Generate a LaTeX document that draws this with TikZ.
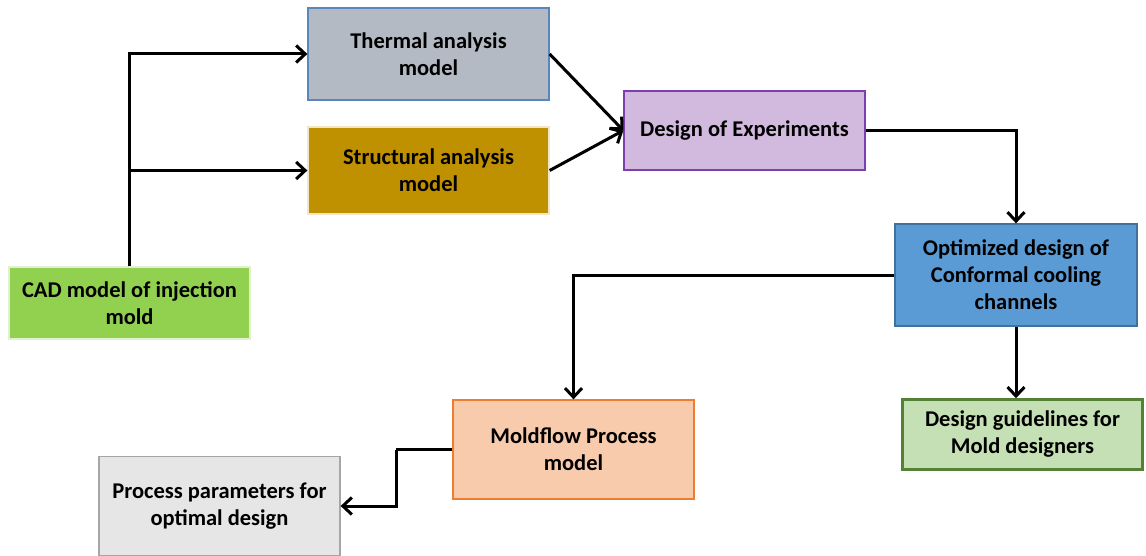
\documentclass[tikz,border=0pt]{standalone}
\usepackage{fontspec}
\setmainfont{Carlito}
\usetikzlibrary{arrows.meta}
\definecolor{thfill}{HTML}{B4BAC3}
\definecolor{thdraw}{HTML}{5B85BD}
\definecolor{stfill}{HTML}{BF9000}
\definecolor{stdraw}{HTML}{F2E6C4}
\definecolor{cadfill}{HTML}{92D050}
\definecolor{caddraw}{HTML}{E2F0D0}
\definecolor{doefill}{HTML}{D2BADF}
\definecolor{doedraw}{HTML}{7B3FB0}
\definecolor{optfill}{HTML}{5B9BD5}
\definecolor{optdraw}{HTML}{41719C}
\definecolor{gdfill}{HTML}{C5E0B4}
\definecolor{gddraw}{HTML}{538135}
\definecolor{mffill}{HTML}{F8CBAD}
\definecolor{mfdraw}{HTML}{ED7D31}
\definecolor{ppfill}{HTML}{E7E6E6}
\definecolor{ppdraw}{HTML}{A6A6A6}
\tikzset{
  box/.style={rectangle, inner sep=0pt, align=center, line width=1.3pt,
    font=\fontsize{22.5}{27}\selectfont\bfseries, text=black},
  conn/.style={line width=3pt, -{Straight Barb[length=9pt,width=17pt,line width=3pt]}},
  plain/.style={line width=3pt}
}
\begin{document}
\begin{tikzpicture}[x=1pt,y=-1pt]
\useasboundingbox (0,0) rectangle (1146,556);
\node[box, fill=thfill, draw=thdraw, minimum width=241pt, minimum height=92pt] (th) at (428.5,54) {Thermal analysis\\model};
\node[box, fill=stfill, draw=stdraw, minimum width=241pt, minimum height=87pt] (st) at (428.5,170.5) {Structural analysis\\model};
\node[box, fill=cadfill, draw=caddraw, minimum width=241pt, minimum height=72pt] (cad) at (129.5,303) {CAD model of injection\\mold};
\node[box, fill=doefill, draw=doedraw, minimum width=241pt, minimum height=79pt] (doe) at (744.5,130.5) {Design of Experiments};
\node[box, fill=optfill, draw=optdraw, minimum width=242pt, minimum height=102pt] (opt) at (1016,275) {Optimized design of\\Conformal cooling\\channels};
\node[box, fill=gdfill, draw=gddraw, line width=2.5pt, minimum width=240pt, minimum height=70pt] (gd) at (1022.5,434.5) {Design guidelines for\\Mold designers};
\node[box, fill=mffill, draw=mfdraw, minimum width=241pt, minimum height=99pt] (mf) at (573.5,449.5) {Moldflow Process\\model};
\node[box, fill=ppfill, draw=ppdraw, minimum width=241pt, minimum height=99pt] (pp) at (219.5,506) {Process parameters for\\optimal design};
\coordinate (bend) at (396,449.5);
\draw[conn] (cad.north) |- (th.west);
\draw[conn] (cad.north) |- (st.west);
\draw[conn] (th.east) -- (doe.west);
\draw[conn] (st.east) -- (doe.west);
\draw[conn] (doe.east) -| (opt.north);
\draw[conn] (opt.south) -- (opt.south |- gd.north);
\draw[conn] (opt.west) -| (mf.north);
\draw[plain] (mf.west) -- (bend);
\draw[conn] (bend) |- (pp.east);
\end{tikzpicture}
\end{document}
